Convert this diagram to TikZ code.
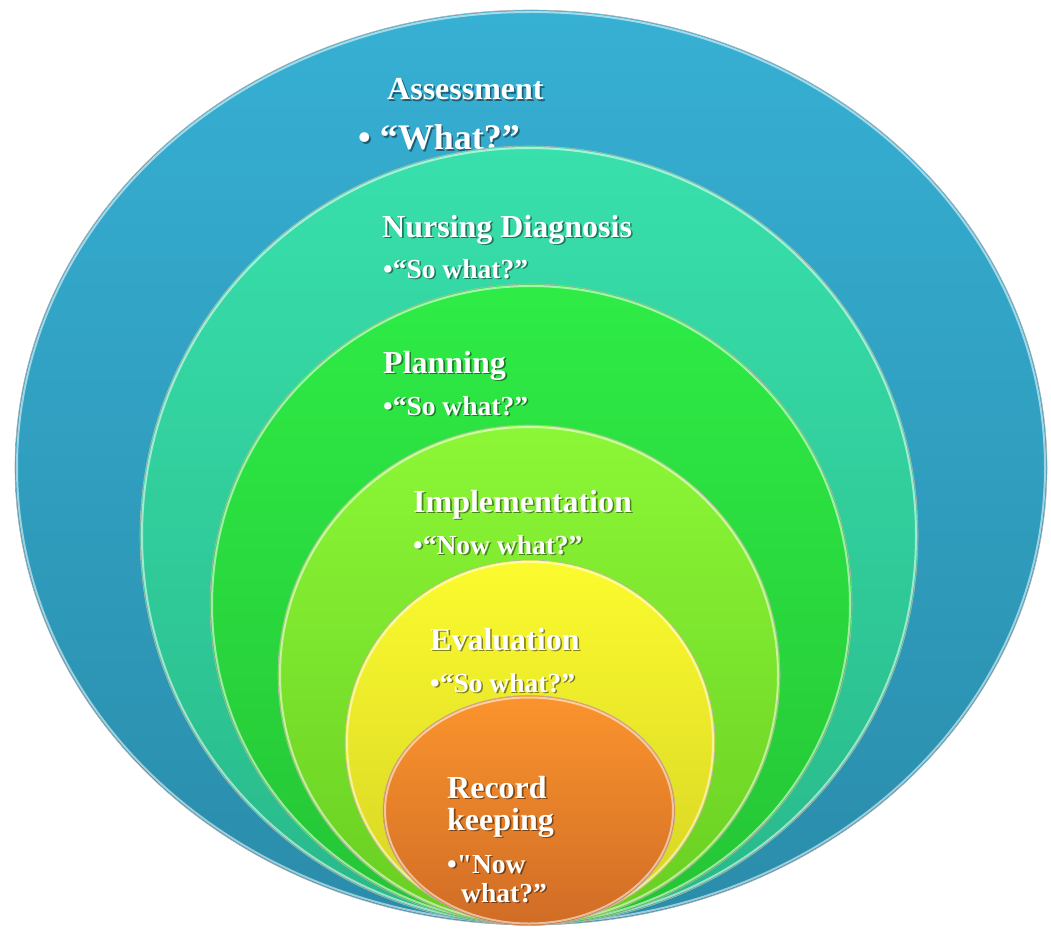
\documentclass[tikz,border=0pt]{standalone}
\usepackage{fontspec}
\setmainfont{Liberation Serif}
\newfontfamily\rawserif{Liberation Serif}
\definecolor{bluetop}{HTML}{36B0D4}
\definecolor{bluebot}{HTML}{2A8CAA}
\definecolor{tealtop}{HTML}{38E0AB}
\definecolor{tealbot}{HTML}{29B88A}
\definecolor{grntop}{HTML}{2EEC46}
\definecolor{grnbot}{HTML}{25C435}
\definecolor{limtop}{HTML}{8CF736}
\definecolor{limbot}{HTML}{68CE22}
\definecolor{yeltop}{HTML}{FBFB2E}
\definecolor{yelbot}{HTML}{D6D224}
\definecolor{orgtop}{HTML}{FB942D}
\definecolor{orgbot}{HTML}{D06C26}
\tikzset{
  disc/.style={draw=black!30, line width=0.6pt},
  rim/.style={draw=white, draw opacity=0.55, line width=2pt},
  lbl/.style={text=white, inner sep=0pt, anchor=base west},
  shd/.style={text=black, text opacity=0.45, inner sep=0pt, anchor=base west, xshift=1.6pt, yshift=-1.6pt},
  hd/.style={font=\bfseries\fontsize{32}{36}\selectfont},
  bl/.style={font=\bfseries\fontsize{27.5}{31}\selectfont},
  big/.style={font=\bfseries\fontsize{36}{40}\selectfont}
}
\newcommand\mylab[5]{%
  \node[shd,#4] at (#1,#2) {#3};
  \node[lbl,#4] (#5) at (#1,#2) {#3};}
\begin{document}
\begin{tikzpicture}[x=1pt,y=-1pt]
\useasboundingbox (0,0) rectangle (1051,928);
% outer
\path[disc, top color=bluetop, bottom color=bluebot] (531,467.5) ellipse [x radius=516pt, y radius=457.5pt];
\draw[rim] (531,467.5) ellipse [x radius=514pt, y radius=455.5pt];
\mylab{387}{100}{Assessment}{hd}{t1}
\mylab{358}{150}{• “What?”}{big}{t1b}
% diagnosis
\path[disc, top color=tealtop, bottom color=tealbot] (529,535.5) ellipse [x radius=389pt, y radius=389.5pt];
\draw[rim] (529,535.5) ellipse [x radius=387pt, y radius=387.5pt];
\mylab{382}{237}{Nursing Diagnosis}{hd}{t2}
\mylab{383}{278}{•“So what?”}{bl}{t2b}
% planning
\path[disc, top color=grntop, bottom color=grnbot] (531,604.5) ellipse [x radius=321pt, y radius=320.5pt];
\draw[rim] (531,604.5) ellipse [x radius=319pt, y radius=318.5pt];
\mylab{383}{373}{Planning}{hd}{t3}
\mylab{383}{415}{•“So what?”}{bl}{t3b}
% implementation
\path[disc, top color=limtop, bottom color=limbot] (529,675) ellipse [x radius=251pt, y radius=250pt];
\draw[rim] (529,675) ellipse [x radius=249pt, y radius=248pt];
\mylab{413}{512}{Implementation}{hd}{t4}
\mylab{413}{554}{•“Now what?”}{bl}{t4b}
% evaluation
\path[disc, top color=yeltop, bottom color=yelbot] (530,742.5) ellipse [x radius=185pt, y radius=182.5pt];
\draw[rim] (530,742.5) ellipse [x radius=183pt, y radius=180.5pt];
\mylab{430}{650}{Evaluation}{hd}{t5}
\mylab{430}{692}{•“So what?”}{bl}{t5b}
% record keeping
\path[disc, top color=orgtop, bottom color=orgbot] (529,810.5) ellipse [x radius=146pt, y radius=115pt];
\draw[rim] (529,810.5) ellipse [x radius=144pt, y radius=113pt];
\mylab{447}{798}{Record}{hd}{t6}
\mylab{447}{830}{keeping}{hd}{t6a}
\mylab{447}{873}{•{\rawserif\bfseries "}Now}{bl}{t6b}
\mylab{461}{902}{what?”}{bl}{t6c}
\end{tikzpicture}
\end{document}
